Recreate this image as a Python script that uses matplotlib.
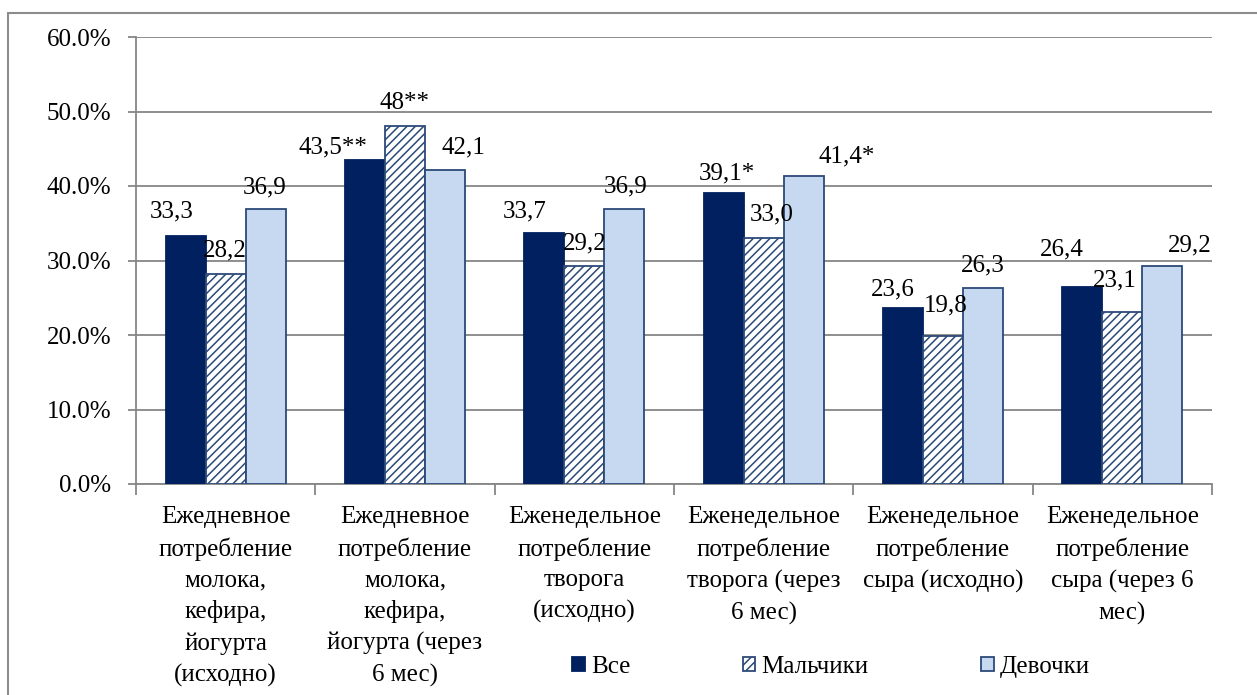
import matplotlib
matplotlib.use("Agg")
import matplotlib.pyplot as plt
import matplotlib.patches as mpatches
from matplotlib.ticker import FixedLocator, PercentFormatter
import numpy as np

plt.rcParams['font.family'] = 'serif'
plt.rcParams['font.serif'] = ['Liberation Serif', 'DejaVu Serif']
plt.rcParams['hatch.linewidth'] = 1.1
plt.rcParams['hatch.color'] = '#0E2A66'

# ---------- DATA ----------
categories = [
    "Ежедневное\nпотребление\nмолока,\nкефира,\nйогурта\n(исходно)",
    "Ежедневное\nпотребление\nмолока,\nкефира,\nйогурта (через\n6 мес)",
    "Еженедельное\nпотребление\nтворога\n(исходно)",
    "Еженедельное\nпотребление\nтворога (через\n6 мес)",
    "Еженедельное\nпотребление\nсыра (исходно)",
    "Еженедельное\nпотребление\nсыра (через 6\nмес)",
]
series_names = ["Все", "Мальчики", "Девочки"]

vse = [33.3, 43.5, 33.7, 39.1, 23.6, 26.4]
malchiki = [28.2, 48.0, 29.2, 33.0, 19.8, 23.1]
devochki = [36.9, 42.1, 36.9, 41.4, 26.3, 29.2]

vse_labels = ["33,3", "43,5**", "33,7", "39,1*", "23,6", "26,4"]
malchiki_labels = ["28,2", "48**", "29,2", "33,0", "19,8", "23,1"]
devochki_labels = ["36,9", "42,1", "36,9", "41,4*", "26,3", "29,2"]

# label nudges in pixels (dx right, dy up from the bar top to the text baseline)
label_dx = [
    [-14, -32, -20, 3, -10, -21],
    [-1, -1, 0, 8, 3, -8],
    [-1, 18, 1, 43, 0, 27],
]
label_dy = [
    [18, 6, 15, 13, 13, 32],
    [17, 17, 17, 18, 25, 25],
    [16, 17, 17, 13, 17, 15],
]

# ---------- STYLE ----------
W, H = 1257, 695
fig = plt.figure(figsize=(W / 100, H / 100), dpi=100)
ax = fig.add_axes([136 / W, 1 - 484 / H, (1212 - 136) / W, (484 - 37) / H])

grid_col = '#868686'
edge_col = '#2C4A78'
fs = 18

values = [vse, malchiki, devochki]
texts = [vse_labels, malchiki_labels, devochki_labels]
styles = [
    dict(color='#002060', edgecolor='#002060'),
    dict(color='white', edgecolor=edge_col, hatch='////'),
    dict(color='#C6D9F1', edgecolor=edge_col),
]

x = np.arange(len(categories))
width = 0.223
handles = []
for i, (vals, st) in enumerate(zip(values, styles)):
    pos = x + (i - 1) * width
    bars = ax.bar(pos, np.array(vals) / 100, width, linewidth=1.3,
                  label=series_names[i], zorder=3, **st)
    handles.append(bars)
    for j, b in enumerate(bars):
        ax.annotate(texts[i][j],
                    xy=(b.get_x() + b.get_width() / 2, b.get_height()),
                    xytext=(label_dx[i][j], label_dy[i][j]),
                    textcoords='offset pixels', ha='center', va='baseline',
                    fontsize=fs, color='black', zorder=5)

# ---------- AXES ----------
ax.set_xlim(-0.5, len(categories) - 0.5)
ax.set_ylim(0, 0.6)
ax.set_yticks(np.arange(0, 0.61, 0.1))
ax.yaxis.set_major_formatter(PercentFormatter(1.0, decimals=1))
ax.yaxis.grid(True, color=grid_col, linewidth=1.3, zorder=0)
ax.set_axisbelow(True)

ax.xaxis.set_major_locator(FixedLocator(np.arange(-0.5, len(categories), 1)))
ax.xaxis.set_minor_locator(FixedLocator(x))
ax.set_xticklabels([], minor=False)
ax.set_xticklabels(categories, minor=True, fontsize=fs, linespacing=1.5,
                   va='top')
ax.tick_params(axis='x', which='major', length=8, width=1.3, color=grid_col)
ax.tick_params(axis='x', which='minor', length=0, pad=16)
ax.tick_params(axis='y', length=6, width=1.3, color=grid_col, pad=12,
               labelsize=fs)

for side in ['top', 'right']:
    ax.spines[side].set_visible(False)
for side in ['left', 'bottom']:
    ax.spines[side].set_color(grid_col)
    ax.spines[side].set_linewidth(1.3)

# ---------- LEGEND ----------
fig.legend(handles=handles, loc='center left',
           bbox_to_anchor=(572 / W, 1 - 667 / H), ncol=3, frameon=False,
           fontsize=fs, handlelength=0.5, handleheight=0.5,
           handletextpad=0.25, columnspacing=4.5, borderpad=0,
           borderaxespad=0)

# outer chart border
fig.patches.append(mpatches.Rectangle((8 / W, -0.1), 1.2, (H - 13) / H + 0.1,
                                      transform=fig.transFigure, fill=False,
                                      edgecolor='#8C8C8C', linewidth=1.5))

fig.savefig('out.png', dpi=100)
